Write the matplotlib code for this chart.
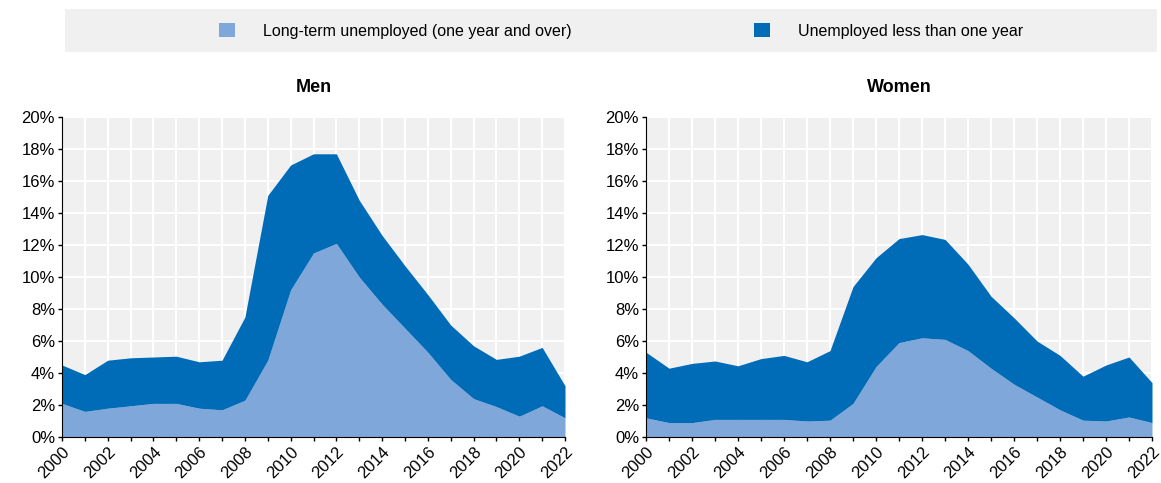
import numpy as np
import matplotlib.pyplot as plt
from matplotlib.patches import Rectangle, Patch

plt.rcParams['font.family'] = ['Liberation Sans', 'DejaVu Sans']

years = list(range(2000, 2023))

men_total = [4.5, 3.9, 4.8, 4.95, 5.0, 5.05, 4.7, 4.8, 7.5, 15.1, 17.0, 17.7, 17.7,
             14.8, 12.6, 10.7, 8.9, 7.0, 5.7, 4.85, 5.05, 5.6, 3.2]
men_long = [2.1, 1.6, 1.8, 1.95, 2.1, 2.1, 1.8, 1.7, 2.3, 4.8, 9.2, 11.5, 12.1,
            10.0, 8.3, 6.8, 5.3, 3.6, 2.4, 1.9, 1.3, 1.95, 1.2]

women_total = [5.3, 4.3, 4.6, 4.75, 4.45, 4.9, 5.1, 4.7, 5.4, 9.4, 11.2, 12.4, 12.65,
               12.35, 10.8, 8.8, 7.45, 6.0, 5.1, 3.8, 4.5, 5.0, 3.4]
women_long = [1.2, 0.9, 0.9, 1.1, 1.1, 1.1, 1.1, 1.0, 1.05, 2.1, 4.4, 5.9, 6.2,
              6.1, 5.4, 4.3, 3.3, 2.5, 1.7, 1.05, 1.0, 1.25, 0.9]

labels = ['Long-term unemployed (one year and over)', 'Unemployed less than one year']
light = '#7fa7d9'
dark = '#006bb6'
bg = '#f0f0f0'

fig = plt.figure(figsize=(11.61, 4.83), dpi=100)

# legend band
fig.patches.append(Rectangle((65 / 1161, 1 - 52 / 483), (1157 - 65) / 1161, 43 / 483,
                             transform=fig.transFigure, facecolor=bg, edgecolor='none'))

panels = [
    ('Men', men_total, men_long, [62 / 1161, 1 - 437 / 483, 503 / 1161, 320 / 483]),
    ('Women', women_total, women_long, [646 / 1161, 1 - 437 / 483, 506 / 1161, 320 / 483]),
]

for title, total, longt, rect in panels:
    ax = fig.add_axes(rect)
    ax.set_facecolor(bg)
    ax.fill_between(years, 0, longt, color=light, linewidth=0, zorder=3)
    ax.fill_between(years, longt, total, color=dark, linewidth=0, zorder=3)
    ax.set_xlim(2000, 2022)
    ax.set_ylim(0, 20)
    ax.set_yticks(np.arange(0, 21, 2))
    ax.set_yticklabels([f'{v}%' for v in range(0, 21, 2)])
    ax.set_xticks(range(2000, 2023, 2))
    ax.set_xticks(years, minor=True)
    for lab in ax.get_xticklabels():
        lab.set_rotation(45)
        lab.set_ha('right')
        lab.set_rotation_mode('anchor')
    ax.grid(True, which='both', axis='x', color='white', linewidth=1.5, zorder=1)
    ax.grid(True, which='major', axis='y', color='white', linewidth=1.5, zorder=1)
    ax.set_axisbelow(True)
    for s in ['top', 'right']:
        ax.spines[s].set_visible(False)
    ax.spines['left'].set_color('black')
    ax.spines['bottom'].set_color('black')
    ax.spines['left'].set_zorder(4)
    ax.spines['bottom'].set_zorder(4)
    ax.tick_params(axis='both', which='both', labelsize=12, length=3, width=1, color='black', pad=2)
    ax.tick_params(axis='x', which='minor', length=3)
    ax.set_title(title, fontsize=13, fontweight='bold', pad=18)

handles = [Patch(facecolor=light, edgecolor='none'), Patch(facecolor=dark, edgecolor='none')]
fig.legend(handles, labels, loc='center', bbox_to_anchor=(0.535, 1 - 31 / 483), ncol=2,
           frameon=False, fontsize=11.5, handlelength=1.0, handleheight=1.0,
           handletextpad=1.75, columnspacing=11.4)

fig.savefig('out.png', dpi=100)
